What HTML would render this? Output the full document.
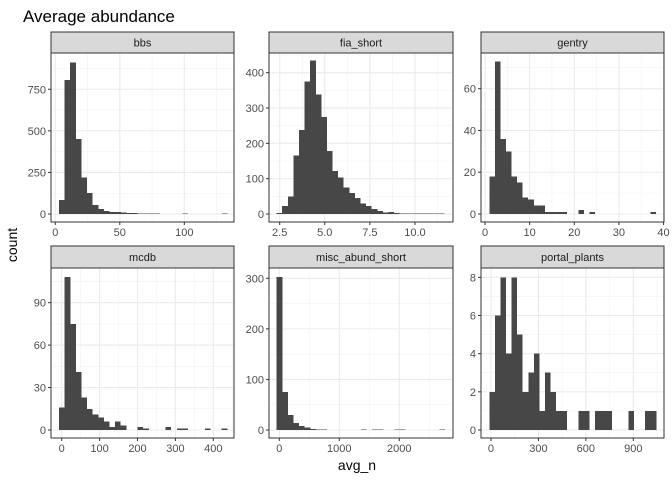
<!DOCTYPE html>
<html><head><meta charset="utf-8"><style>
body{margin:0;background:#fff}
svg{display:block;font-family:"Liberation Sans",Arial,sans-serif}
</style></head><body>
<svg id="c" width="672" height="480">
<text x="23" y="22" font-size="17" fill="#000">Average abundance</text>
<text transform="translate(17,245) rotate(-90)" text-anchor="middle" font-size="14" fill="#000">count</text>
<text x="357" y="470" text-anchor="middle" font-size="14" fill="#000">avg_n</text>
</svg>
<script>
const facetNames=["bbs","fia_short","gentry","mcdb","misc_abund_short","portal_plants"];
const bbsCounts=[85,805,910,450,220,125,55,30,18,12,12,8,6,5,4,3,2,2,1,1,1,1,2,1,1,1,1,1,1,2];
const fiaCounts=[3,22,50,165,238,375,435,338,275,178,122,103,75,60,45,30,22,14,8,4,5,3,2,2,1,1,1,1,1,1];
const gentryCounts=[18,73,36,30,18,15,8,7,4,4,1,1,1,1,0,0,2,0,1,0,0,0,0,0,0,0,0,0,0,1];
const mcdbCounts=[16,108,75,41,23,15,11,9,6,2,6,3,0,0,2,1,0,0,0,2,0,1,1,0,0,0,1,0,0,1];
const miscCounts=[303,75,30,14,8,5,2,1,1,0,0,0,0,0,0,1,0,1,1,0,0,1,1,0,0,0,0,0,0,1];
const portalCounts=[2,6,8,4,8,5,2,3,4,1,3,2,1,1,0,0,1,1,0,1,1,1,0,0,0,1,0,0,1,1];
const binStarts=[2.9,2.33,0.97,-7,-43,-10.5];
const binWidths=[4.35,0.31,1.245,14.8,93.5,35.2];
const xDomains=[[-3.3,138.5],[1.907,12.11],[-0.9,40.1],[-28.2,454.6],[-171,2895],[-63,1094]];
const yDomains=[[-48,968],[-22.6,455.7],[-3.83,77.1],[-5.66,114.5],[-15.8,320.4],[-0.42,8.49]];
const xTicks=[[0,50,100],[2.5,5,7.5,10],[0,10,20,30,40],[0,100,200,300,400],[0,1000,2000],[0,300,600,900]];
const xTickLabels=[["0","50","100"],["2.5","5.0","7.5","10.0"],["0","10","20","30","40"],["0","100","200","300","400"],["0","1000","2000"],["0","300","600","900"]];
const yTicks=[[0,250,500,750],[0,100,200,300,400],[0,20,40,60],[0,30,60,90],[0,100,200,300],[0,2,4,6,8]];
const allCounts=[bbsCounts,fiaCounts,gentryCounts,mcdbCounts,miscCounts,portalCounts];

const svg=document.getElementById('c');
const NS="http://www.w3.org/2000/svg";
function mk(t,a,p){const e=document.createElementNS(NS,t);for(const k in a)e.setAttribute(k,a[k]);(p||svg).appendChild(e);return e;}
const colsX=[[51,234],[269,453],[481,664]];
const rowsY=[[32,53,222],[246,268,438]];
for(let i=0;i<6;i++){
  const [L,R]=colsX[i%3];const [ST,T,B]=rowsY[Math.floor(i/3)];
  const g=mk('g',{});
  
  
  const xd=xDomains[i],yd=yDomains[i];
  const xs=v=>L+(v-xd[0])/(xd[1]-xd[0])*(R-L);
  const ys=v=>B-(v-yd[0])/(yd[1]-yd[0])*(B-T);
  mk('rect',{x:L,y:T,width:R-L,height:B-T,fill:'#fff'},g);
  const xt=xTicks[i],yt=yTicks[i];
  const xstep=xt[1]-xt[0],ystep=yt[1]-yt[0];
  for(let v=xt[0]-xstep/2;v<=xd[1];v+=xstep){if(v>=xd[0])mk('line',{x1:xs(v),x2:xs(v),y1:T,y2:B,stroke:'#f2f2f2','stroke-width':0.55},g);}
  for(let v=yt[0]-ystep/2;v<=yd[1];v+=ystep){if(v>=yd[0])mk('line',{x1:L,x2:R,y1:ys(v),y2:ys(v),stroke:'#f2f2f2','stroke-width':0.55},g);}
  xt.forEach(v=>mk('line',{x1:xs(v),x2:xs(v),y1:T,y2:B,stroke:'#ebebeb','stroke-width':1.1},g));
  yt.forEach(v=>mk('line',{x1:L,x2:R,y1:ys(v),y2:ys(v),stroke:'#ebebeb','stroke-width':1.1},g));
  allCounts[i].forEach((c,j)=>{
    if(c<=0)return;
    const x0=xs(binStarts[i]+j*binWidths[i]),x1=xs(binStarts[i]+(j+1)*binWidths[i]);
    const r=mk('rect',{x:x0,y:ys(c),width:x1-x0,height:ys(0)-ys(c),fill:'#474747','shape-rendering':'crispEdges'},g);
    
    
  });
  mk('rect',{x:L,y:T,width:R-L,height:B-T,fill:'none',stroke:'#333','stroke-width':1},g);
  mk('rect',{x:L,y:ST,width:R-L,height:T-ST,fill:'#d9d9d9',stroke:'#333','stroke-width':1},g);
  const st=mk('text',{x:(L+R)/2,y:(ST+T)/2+4,'text-anchor':'middle','font-size':'11',fill:'#1a1a1a'},g);
  st.textContent=facetNames[i];
  
  
  xt.forEach((v,k)=>{
    mk('line',{x1:xs(v),x2:xs(v),y1:B,y2:B+3,stroke:'#333','stroke-width':1},g);
    const t=mk('text',{x:xs(v),y:B+14,'text-anchor':'middle','font-size':'11',fill:'#4d4d4d'},g);
    t.textContent=xTickLabels[i][k];
    
    
  });
  yt.forEach(v=>{
    mk('line',{x1:L-3,x2:L,y1:ys(v),y2:ys(v),stroke:'#333','stroke-width':1},g);
    const t=mk('text',{x:L-5,y:ys(v)+4,'text-anchor':'end','font-size':'11',fill:'#4d4d4d'},g);
    t.textContent=String(v);
    
    
  });
}
</script>
</body></html>
